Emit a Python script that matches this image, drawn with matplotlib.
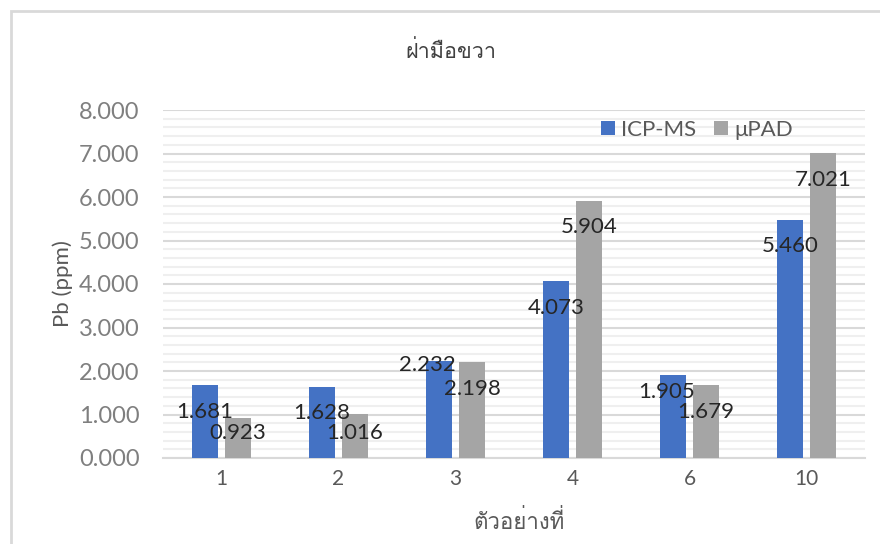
"""Grouped bar chart of Pb levels: ICP-MS versus uPAD, right palm samples."""

import matplotlib
matplotlib.use("Agg")
import matplotlib.pyplot as plt
import numpy as np
from matplotlib import font_manager
from matplotlib.ft2font import FT2Font
from matplotlib.patches import Rectangle
from matplotlib.ticker import MultipleLocator, FormatStrFormatter


samples = ["1", "2", "3", "4", "6", "10"]
icp_ms = [1.681, 1.628, 2.232, 4.073, 1.905, 5.460]
upad = [0.923, 1.016, 2.198, 5.904, 1.679, 7.021]

TITLE = "ฝ่ามือขวา"
XLABEL = "ตัวอย่างที่"
YLABEL = "Pb (ppm)"

BLUE = "#4472c4"
GREY = "#a5a5a5"


def find_thai_font():
    # first installed font that has the Thai block
    for path in sorted(font_manager.findSystemFonts()):
        try:
            cmap = FT2Font(path).get_charmap()
        except Exception:
            continue
        if 0x0E1D in cmap and 0x0E48 in cmap:
            return font_manager.FontProperties(fname=path).get_name()
    return None


thai = find_thai_font()
base = ["Lato", "DejaVu Sans"]
plt.rcParams["font.family"] = base
thai_family = ([thai] if thai else []) + base

fig = plt.figure(figsize=(8.8, 5.44), dpi=100)
ax = fig.add_axes([163 / 880, 1 - 458 / 544, 702 / 880, 348 / 544])

# chart frame, right and bottom edges run off the canvas
fig.patches.append(Rectangle((11 / 880, -0.1), 1.2, 1.1 - 11 / 544, transform=fig.transFigure,
                             fill=False, edgecolor="#d9d9d9", linewidth=2))

x = np.arange(len(samples))
width = 0.222
shift = 0.141
b1 = ax.bar(x - shift, icp_ms, width, color=BLUE, label="ICP-MS", zorder=3)
b2 = ax.bar(x + shift, upad, width, color=GREY, label="\u03bcPAD", zorder=3)

# label offsets in pixels (dx, dy) relative to the top of each bar
icp_off = [(0, -27), (0, -26), (-12, -4), (0, -27), (-6, -17), (0, -26)]
upad_off = [(0, -15), (0, -19), (0, -27), (0, -26), (0, -27), (0, -27)]
for bars, vals, offs in ((b1, icp_ms, icp_off), (b2, upad, upad_off)):
    for bar, v, (dx, dy) in zip(bars, vals, offs):
        ax.annotate(f"{v:.3f}", (bar.get_x() + bar.get_width() / 2, v),
                    xytext=(dx, dy), textcoords="offset pixels",
                    ha="center", va="center", fontsize=16, color="#262626", zorder=4)

ax.set_xlim(-0.5, len(samples) - 0.5)
ax.set_ylim(0, 8)
ax.yaxis.set_major_locator(MultipleLocator(1))
ax.yaxis.set_minor_locator(MultipleLocator(0.2))
ax.yaxis.set_major_formatter(FormatStrFormatter("%.3f"))
ax.grid(axis="y", which="major", color="#d9d9d9", linewidth=1.5, zorder=0)
ax.grid(axis="y", which="minor", color="#efefef", linewidth=1.5, zorder=0)
ax.set_axisbelow(True)

ax.set_xticks(x)
ax.set_xticklabels(samples)
ax.tick_params(axis="x", length=0, pad=8, labelsize=15, labelcolor="#595959")
ax.tick_params(axis="y", which="both", length=0, pad=17, labelsize=17, labelcolor="#7f7f7f")

for side in ("top", "right", "left"):
    ax.spines[side].set_visible(False)
ax.spines["bottom"].set_color("#d9d9d9")
ax.spines["bottom"].set_linewidth(1.5)

ax.set_ylabel(YLABEL, fontsize=16, color="#595959", labelpad=4)
fig.text(519 / 880, 1 - 522 / 544, XLABEL, ha="center", va="center",
         fontsize=16, color="#595959", family=thai_family)
fig.text(451 / 880, 1 - 52 / 544, TITLE, ha="center", va="center",
         fontsize=15.5, color="#404040", family=thai_family)

ax.legend(loc="upper right", bbox_to_anchor=(0.926, 1.03), ncol=2, frameon=False,
          fontsize=16, labelcolor="#595959", handlelength=0.6, handleheight=0.6,
          handletextpad=0.3, columnspacing=0.8)

fig.savefig("out.png", dpi=100)
